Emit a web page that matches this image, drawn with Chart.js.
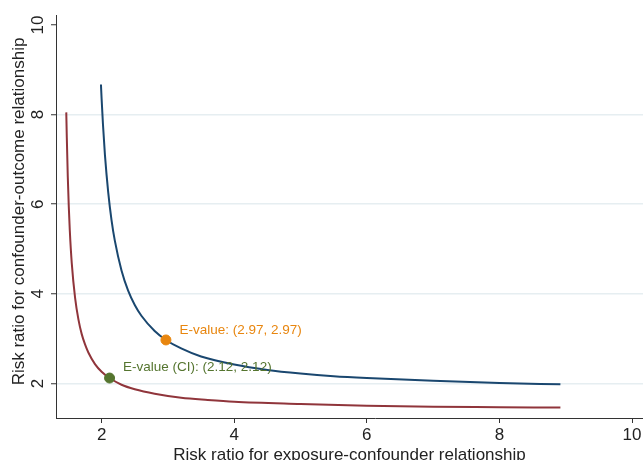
<!DOCTYPE html>
<html>
<head>
<meta charset="utf-8">
<script src="https://cdn.jsdelivr.net/npm/chart.js@4.4.1/dist/chart.umd.min.js"></script>
<style>
html,body{margin:0;padding:0;background:#fff;overflow:hidden;width:643px;height:460px;}
#wrap{width:700px;height:460px;}
</style>
</head>
<body>
<div id="wrap"><canvas id="c" width="700" height="460"></canvas></div>
<script>
// Data
const blueX = [1.99, 2.0, 2.02, 2.05, 2.1, 2.15, 2.2, 2.3, 2.4, 2.5, 2.6, 2.8, 2.97, 3.2, 3.5, 4, 4.5, 5, 5.5, 6, 7, 8, 8.92];
const blueY = [8.67, 8.35, 7.79, 7.10, 6.26, 5.64, 5.18, 4.52, 4.07, 3.75, 3.51, 3.17, 2.97, 2.78, 2.60, 2.42, 2.30, 2.22, 2.16, 2.12, 2.06, 2.01, 1.98];
const redX = [1.467, 1.475, 1.49, 1.505, 1.52, 1.55, 1.6, 1.65, 1.7, 1.75, 1.8, 1.9, 2.0, 2.12, 2.3, 2.5, 2.8, 3.2, 3.6, 4, 5, 6, 7, 8, 8.92];
const redY = [8.05, 7.49, 6.60, 5.94, 5.42, 4.68, 3.91, 3.43, 3.10, 2.87, 2.69, 2.43, 2.26, 2.12, 1.97, 1.87, 1.77, 1.68, 1.63, 1.59, 1.54, 1.50, 1.48, 1.47, 1.46];
const evPoint = [2.97, 2.97];
const ciPoint = [2.12, 2.12];
const evLabel = "E-value: (2.97, 2.97)";
const ciLabel = "E-value (CI): (2.12, 2.12)";
const xTicks = [2, 4, 6, 8, 10];
const yTicks = [2, 4, 6, 8, 10];
const xTitle = "Risk ratio for exposure-confounder relationship";
const yTitle = "Risk ratio for confounder-outcome relationship";

const FONT = "'Liberation Sans', Arial, sans-serif";
const toPts = (xs, ys) => xs.map((x, i) => ({x: x, y: ys[i]}));

const textPlugin = {
  id: 'texts',
  afterDraw(chart) {
    const ctx = chart.ctx;
    const xs = chart.scales.x, ys = chart.scales.y;
    ctx.save();
    // y tick labels (rotated)
    ctx.fillStyle = '#222';
    ctx.font = '17px ' + FONT;
    ctx.textAlign = 'center';
    ctx.textBaseline = 'alphabetic';
    yTicks.forEach(v => {
      const py = ys.getPixelForValue(v);
      ctx.save();
      ctx.translate(42.5, py);
      ctx.rotate(-Math.PI / 2);
      ctx.fillText(String(v), 0, 0);
      ctx.restore();
    });
    // y title
    ctx.save();
    ctx.translate(24, 211.5);
    ctx.rotate(-Math.PI / 2);
    ctx.fillText(yTitle, 0, 0);
    ctx.restore();
    // x title
    ctx.fillText(xTitle, 349.5, 460);
    // point labels
    ctx.font = '13.5px ' + FONT;
    ctx.textAlign = 'left';
    ctx.fillStyle = '#e8860f';
    ctx.fillText(evLabel, xs.getPixelForValue(evPoint[0]) + 13.5, ys.getPixelForValue(evPoint[1]) - 6);
    ctx.fillStyle = '#55752f';
    ctx.fillText(ciLabel, xs.getPixelForValue(ciPoint[0]) + 13.5, ys.getPixelForValue(ciPoint[1]) - 7.5);
    ctx.restore();
  }
};

new Chart(document.getElementById('c'), {
  type: 'scatter',
  data: {
    datasets: [
      {data: [{x: evPoint[0], y: evPoint[1]}], backgroundColor: '#e8860f', borderColor: '#e8860f', pointRadius: 5, pointHoverRadius: 5, order: 0},
      {data: [{x: ciPoint[0], y: ciPoint[1]}], backgroundColor: '#55752f', borderColor: '#55752f', pointRadius: 5, pointHoverRadius: 5, order: 0},
      {data: toPts(blueX, blueY), showLine: true, borderColor: '#1a476f', borderWidth: 2, pointRadius: 0, cubicInterpolationMode: 'monotone', order: 1},
      {data: toPts(redX, redY), showLine: true, borderColor: '#90353b', borderWidth: 2, pointRadius: 0, cubicInterpolationMode: 'monotone', order: 1}
    ]
  },
  options: {
    responsive: false,
    animation: false,
    devicePixelRatio: 1,
    layout: {padding: {top: 15, left: 0, right: 0, bottom: 0}},
    plugins: {legend: {display: false}, tooltip: {enabled: false}},
    scales: {
      x: {
        type: 'linear', position: 'bottom', min: 1.312, max: 10.935,
        afterFit: s => { s.height = 42; },
        afterBuildTicks: s => { s.ticks = xTicks.map(v => ({value: v})); },
        grid: {drawOnChartArea: false, tickLength: 5, tickColor: '#333', tickWidth: 1},
        border: {color: '#333', width: 1},
        ticks: {font: {size: 17, family: FONT}, color: '#222', padding: 2, maxRotation: 0, autoSkip: false}
      },
      y: {
        type: 'linear', position: 'left', min: 1.228, max: 10.223,
        afterFit: s => { s.width = 56; },
        afterBuildTicks: s => { s.ticks = yTicks.map(v => ({value: v})); },
        grid: {
          color: c => (c.tick && c.tick.value === 10) ? 'rgba(0,0,0,0)' : '#e6eef1',
          lineWidth: 1.5, tickLength: 5, tickColor: '#333', tickWidth: 1
        },
        border: {color: '#333', width: 1},
        ticks: {display: false}
      }
    }
  },
  plugins: [textPlugin]
});
</script>
</body>
</html>
